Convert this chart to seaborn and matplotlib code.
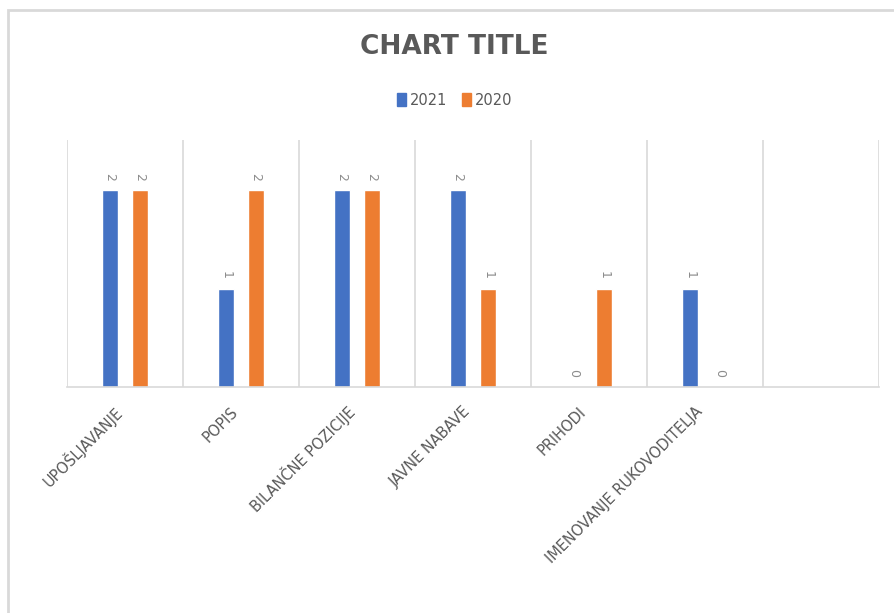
import matplotlib
matplotlib.use("Agg")
import matplotlib.pyplot as plt
import seaborn as sns
import pandas as pd
from matplotlib.patches import Rectangle, Patch
from matplotlib.transforms import ScaledTranslation

categories = ["UPOŠLJAVANJE", "POPIS", "BILANČNE POZICIJE", "JAVNE NABAVE",
              "PRIHODI", "IMENOVANJE RUKOVODITELJA"]
series_names = ["2021", "2020"]
values_2021 = [2, 1, 2, 2, 0, 1]
values_2020 = [2, 2, 2, 1, 1, 0]
title = "CHART TITLE"

rows = []
for c, v in zip(categories, values_2021):
    rows.append({"cat": c, "year": "2021", "val": v})
for c, v in zip(categories, values_2020):
    rows.append({"cat": c, "year": "2020", "val": v})
df = pd.DataFrame(rows)

sns.set_theme(style="white")
plt.rcParams['font.family'] = ['DejaVu Sans']

fig = plt.figure(figsize=(8.95, 6.13), dpi=100)
ax = fig.add_axes([67/895, 1-387/613, (879-67)/895, (387-140)/613])

colors = {"2021": "#4472C4", "2020": "#ED7D31"}
sns.barplot(data=df, x="cat", y="val", hue="year", order=categories,
            hue_order=series_names, palette=colors, width=0.52, gap=0.45,
            ax=ax, legend=False, saturation=1)

ax.set_xlim(-0.5, len(categories) + 0.5)
ax.set_ylim(0, 2.51)
ax.set_yticks([])
ax.set_xlabel("")
ax.set_ylabel("")
for s in ["left", "right", "top"]:
    ax.spines[s].set_visible(False)
ax.spines["bottom"].set_color("#d9d9d9")
ax.spines["bottom"].set_linewidth(1.2)

for i in range(len(categories) + 2):
    ax.axvline(i - 0.5, color="#d9d9d9", lw=1.2, zorder=0)

for cont in ax.containers:
    ax.bar_label(cont, fmt="%d", rotation=-90, padding=7, color="#8c8c8c",
                 fontsize=9)

ax.set_xticks(range(len(categories)))
ax.set_xticklabels(categories, rotation=45, ha="right", va="center",
                   rotation_mode="anchor", fontsize=10.5, color="#595959")
ax.tick_params(axis="x", length=0, pad=16)
shift = ScaledTranslation(-5/100, 0, fig.dpi_scale_trans)
for lbl in ax.get_xticklabels():
    lbl.set_transform(lbl.get_transform() + shift)

fig.text(0.507, 1-47/613, title, ha="center", va="center", fontsize=19,
         fontweight="bold", color="#595959", family=["DejaVu Sans"])

handles = [Patch(color=colors[n], label=n) for n in series_names]
leg = fig.legend(handles=handles, loc="center", bbox_to_anchor=(0.508, 1-100/613),
                 ncol=2, frameon=False, fontsize=10.5, handlelength=0.6,
                 handleheight=0.9, handletextpad=0.3, columnspacing=1.0)
for t in leg.get_texts():
    t.set_color("#595959")

fig.patches.append(Rectangle((8/895, -0.1), 1.2, 1-10/613+0.1,
                             transform=fig.transFigure, fill=False,
                             edgecolor="#d9d9d9", lw=2))

fig.savefig("out.png", dpi=100)
